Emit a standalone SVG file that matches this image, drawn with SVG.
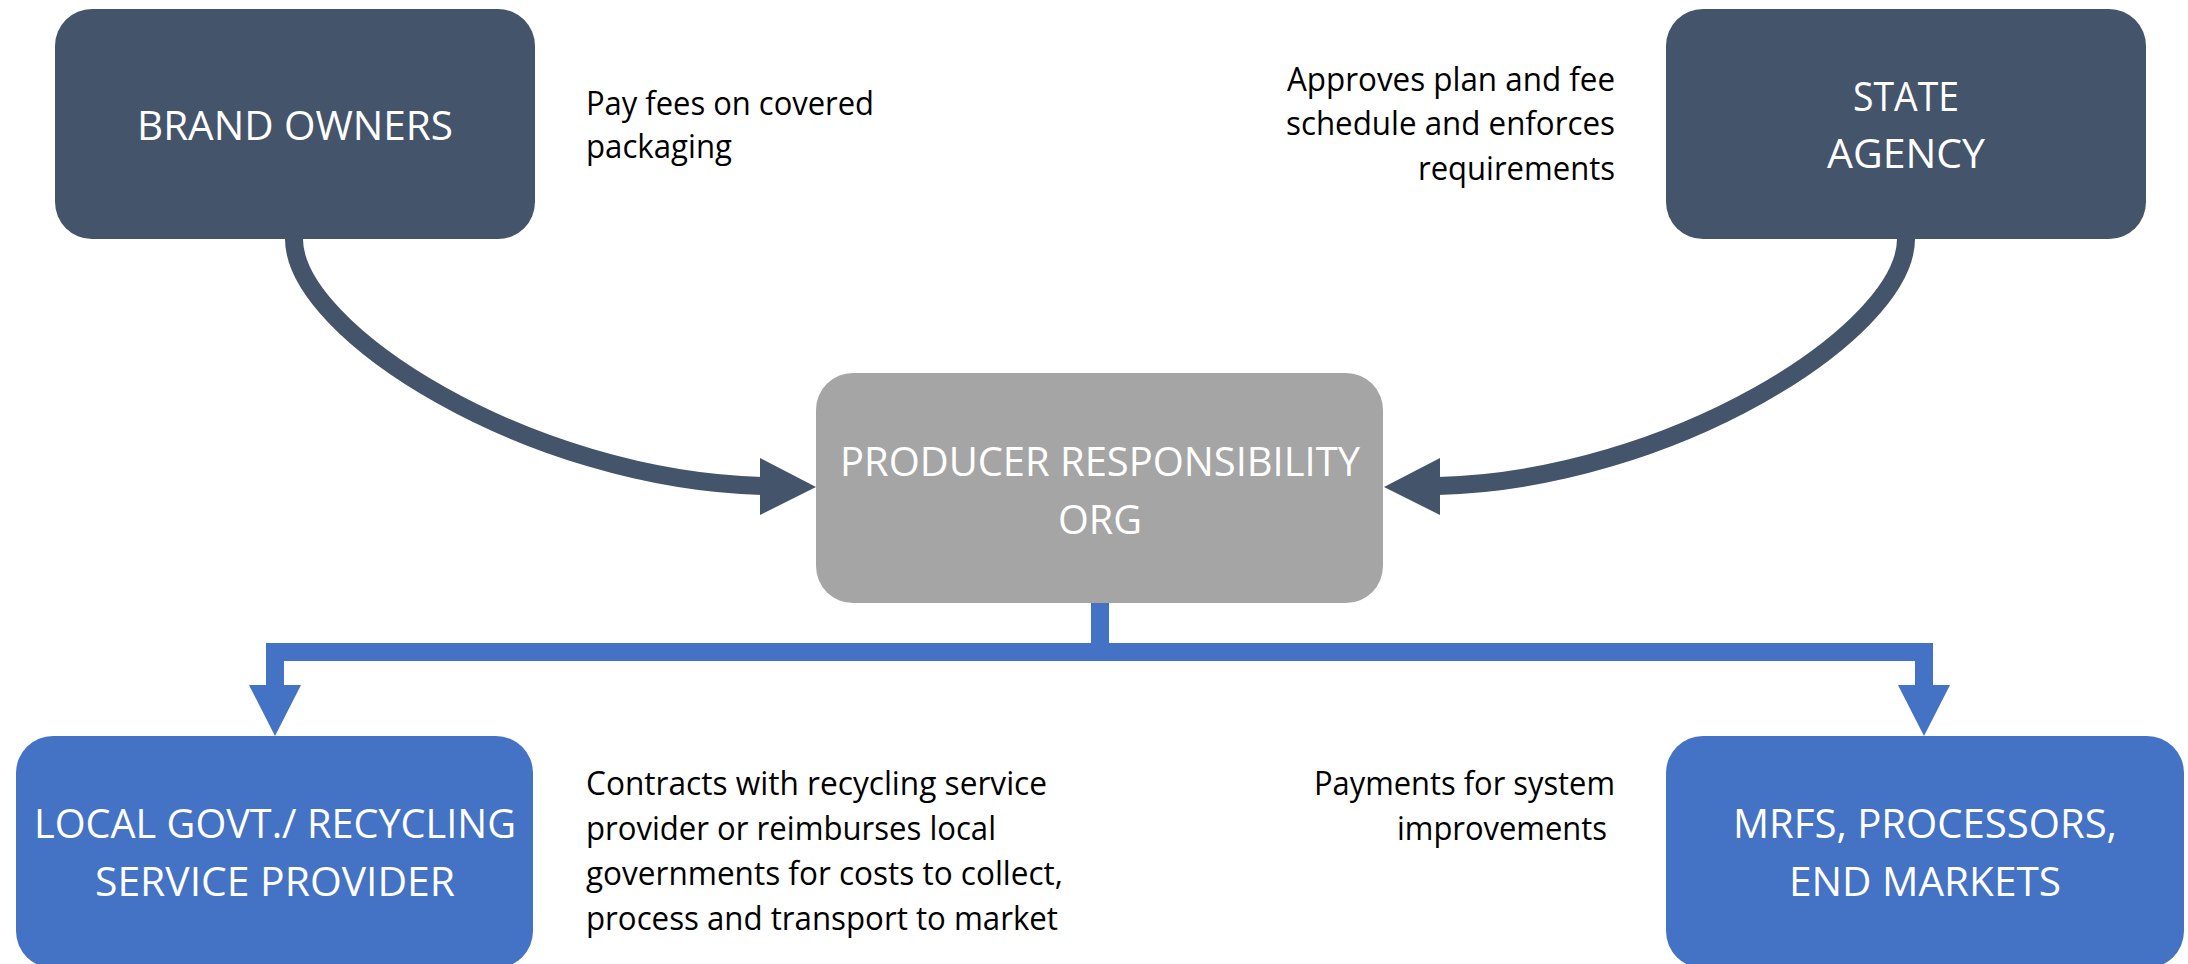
<svg xmlns="http://www.w3.org/2000/svg" width="2188" height="964" viewBox="0 0 2188 964">
<style>
.dark{fill:#44546A}
.gray{fill:#A5A5A5}
.blue{fill:#4472C4}
.nt{font-family:"Open Sans","Liberation Sans",sans-serif;font-size:41px;fill:#FFFFFF;text-anchor:middle}
.lbl{font-family:"Open Sans","Liberation Sans",sans-serif;font-size:32px;fill:#000000}
.r{text-anchor:end}
.curve{fill:none;stroke:#44546A;stroke-width:18}
.elbow{fill:none;stroke:#4472C4;stroke-width:18;stroke-linejoin:miter}
</style>
<rect width="2188" height="964" fill="#FFFFFF"/>
<g id="connectors">
<path class="curve" d="M294,239 C294,332 530,480 762,486"/>
<polygon class="dark" points="760,458 816,487 760,515"/>
<path class="curve" d="M1906,239 C1906,332 1670,480 1438,486"/>
<polygon class="dark" points="1440,458 1384,487 1440,515"/>
<path class="elbow" d="M1100,603 V652"/>
<path class="elbow" d="M275,687 V652 H1924 V687"/>
<polygon class="blue" points="249,685 301,685 275,736"/>
<polygon class="blue" points="1898,685 1950,685 1924,736"/>
</g>
<g id="brand-owners">
<rect class="dark" x="55" y="9" width="480" height="230" rx="37"/>
<text class="nt" x="295" y="140" textLength="316" lengthAdjust="spacingAndGlyphs">BRAND OWNERS</text>
</g>
<g id="state-agency">
<rect class="dark" x="1666" y="9" width="480" height="230" rx="37"/>
<text class="nt" x="1906" y="111" textLength="106" lengthAdjust="spacingAndGlyphs">STATE</text>
<text class="nt" x="1906" y="168" textLength="158" lengthAdjust="spacingAndGlyphs">AGENCY</text>
</g>
<g id="pro">
<rect class="gray" x="816" y="373" width="567" height="230" rx="37"/>
<text class="nt" x="1100" y="476" textLength="520" lengthAdjust="spacingAndGlyphs">PRODUCER RESPONSIBILITY</text>
<text class="nt" x="1100" y="534" textLength="84" lengthAdjust="spacingAndGlyphs">ORG</text>
</g>
<g id="local-govt">
<rect class="blue" x="16" y="736" width="517" height="232" rx="37"/>
<text class="nt" x="275" y="838" textLength="482" lengthAdjust="spacingAndGlyphs">LOCAL GOVT./ RECYCLING</text>
<text class="nt" x="275" y="896" textLength="360" lengthAdjust="spacingAndGlyphs">SERVICE PROVIDER</text>
</g>
<g id="mrfs">
<rect class="blue" x="1666" y="736" width="518" height="232" rx="37"/>
<text class="nt" x="1925" y="838" textLength="384" lengthAdjust="spacingAndGlyphs">MRFS, PROCESSORS,</text>
<text class="nt" x="1925" y="896" textLength="272" lengthAdjust="spacingAndGlyphs">END MARKETS</text>
</g>
<g id="labels">
<text class="lbl" x="586" y="115" textLength="288" lengthAdjust="spacingAndGlyphs">Pay fees on covered</text>
<text class="lbl" x="586" y="158" textLength="146" lengthAdjust="spacingAndGlyphs">packaging</text>
<text class="lbl r" x="1615" y="91" textLength="328" lengthAdjust="spacingAndGlyphs">Approves plan and fee</text>
<text class="lbl r" x="1615" y="135" textLength="329" lengthAdjust="spacingAndGlyphs">schedule and enforces</text>
<text class="lbl r" x="1615" y="180" textLength="197" lengthAdjust="spacingAndGlyphs">requirements</text>
<text class="lbl" x="586" y="795" textLength="461" lengthAdjust="spacingAndGlyphs">Contracts with recycling service</text>
<text class="lbl" x="586" y="840" textLength="410" lengthAdjust="spacingAndGlyphs">provider or reimburses local</text>
<text class="lbl" x="586" y="885" textLength="477" lengthAdjust="spacingAndGlyphs">governments for costs to collect,</text>
<text class="lbl" x="586" y="930" textLength="472" lengthAdjust="spacingAndGlyphs">process and transport to market</text>
<text class="lbl r" x="1615" y="795" textLength="301" lengthAdjust="spacingAndGlyphs">Payments for system</text>
<text class="lbl r" x="1607" y="840" textLength="210" lengthAdjust="spacingAndGlyphs">improvements</text>
</g>
</svg>
